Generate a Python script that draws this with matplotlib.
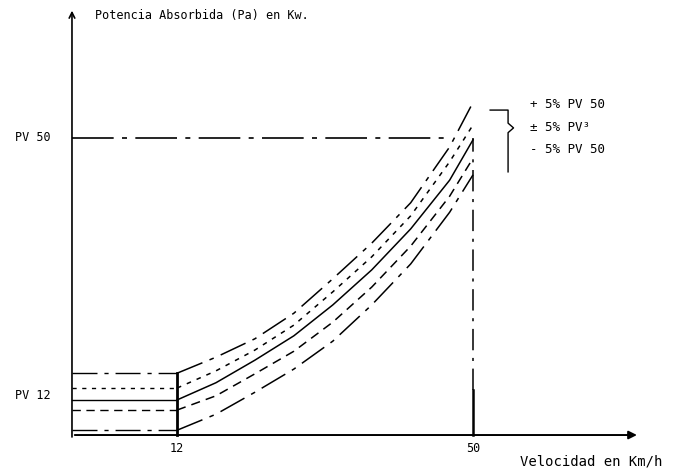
import matplotlib
matplotlib.use('Agg')
import matplotlib.pyplot as plt

# velocidad (km/h) de los puntos
velocidad = [12, 17, 22, 27, 32, 37, 42, 47, 50]

# potencia absorbida (unidades relativas, PV 50 = 50)
mas_5_pv50 = [10.4, 13.1, 16.2, 20.5, 26.3, 32.3, 39.1, 48.5, 56.0]
mas_5_pv3 = [7.9, 10.8, 14.3, 18.5, 24.1, 30.0, 36.9, 46.0, 52.2]
pv3 = [5.9, 8.8, 12.6, 16.7, 21.9, 27.8, 34.7, 42.9, 49.7]
menos_5_pv3 = [4.2, 6.6, 10.3, 14.1, 19.0, 24.9, 31.8, 40.2, 46.6]
menos_5_pv50 = [0.8, 3.5, 7.2, 11.1, 15.8, 21.9, 28.8, 37.5, 43.8]

v_min, v_max = 12, 50
pv_50 = 50
pv_12 = 6.7

leyenda = ['+ 5% PV 50', '\u00b1 5% PV\u00b3', '- 5% PV 50']

DASHDOT = (0, (18, 5, 3, 5))
DASH_CORTO = (0, (3, 4))
DASH = (0, (6, 4))
MONO = 'DejaVu Sans Mono'


def main():
    fig = plt.figure(figsize=(6.86, 4.69), dpi=100)
    ax = fig.add_axes([0, 0, 1, 1])
    ax.set_xlim(-10.72, 77.34)
    ax.set_ylim(-5.72, 73.23)
    ax.axis('off')

    x0 = -1.48  # posicion del eje vertical

    # ejes con flechas
    ax.annotate('', xy=(x0, 71.9), xytext=(x0, -0.8),
                arrowprops=dict(arrowstyle='->', lw=1.2, color='black'))
    ax.annotate('', xy=(71.4, 0), xytext=(x0, 0),
                arrowprops=dict(arrowstyle='-|>', lw=1.4, color='black',
                                mutation_scale=12))

    curvas = [(mas_5_pv50, DASHDOT), (mas_5_pv3, DASH_CORTO), (pv3, '-'),
              (menos_5_pv3, DASH), (menos_5_pv50, DASHDOT)]
    for valores, estilo in curvas:
        ax.plot(velocidad, valores, color='black', lw=1.1, linestyle=estilo)
        # tramo horizontal hasta el eje
        ax.plot([x0, v_min], [valores[0], valores[0]], color='black',
                lw=1.0, linestyle=estilo)

    # verticales en 12 y 50 km/h
    ax.plot([v_min, v_min], [0, mas_5_pv50[0]], color='black', lw=2.0)
    ax.plot([v_max, v_max], [7.6, pv_50], color='black', lw=1.1,
            linestyle=(0, (14, 5, 2, 5)))
    ax.plot([v_max, v_max], [0, 7.6], color='black', lw=1.8)

    # linea PV 50
    ax.plot([x0, 47.3], [pv_50, pv_50], color='black', lw=1.2,
            linestyle=(0, (25, 5, 3, 5)))

    # textos
    kw = dict(family=MONO, fontsize=8.5, color='black')
    ax.text(1.47, 70.7, 'Potencia Absorbida (Pa) en Kw.', ha='left',
            va='center', **kw)
    ax.text(56.0, -4.5, 'Velocidad en Km/h', ha='left', va='center',
            family=MONO, fontsize=10, color='black')
    ax.text(-8.8, pv_50, 'PV 50', ha='left', va='center', **kw)
    ax.text(-8.8, pv_12, 'PV 12', ha='left', va='center', **kw)
    ax.text(v_min, -2.2, '12', ha='center', va='center', **kw)
    ax.text(v_max, -2.2, '50', ha='center', va='center', **kw)

    # llave y leyenda
    ax.plot([52.2, 54.5, 54.5, 55.2, 54.5, 54.5],
            [54.7, 54.7, 52.5, 51.7, 50.9, 44.3], color='black', lw=1.0)
    for texto, y in zip(leyenda, [55.6, 51.7, 48.0]):
        ax.text(57.3, y, texto, ha='left', va='center',
                family=MONO, fontsize=9, color='black')

    fig.savefig('out.png', dpi=100)


if __name__ == '__main__':
    main()
